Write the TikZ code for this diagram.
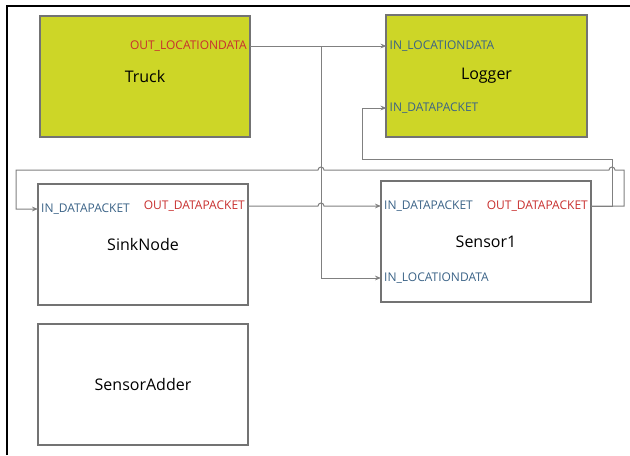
\documentclass[tikz,border=0pt]{standalone}
\usepackage{fontspec}
\setmainfont{Open Sans}
\usetikzlibrary{arrows.meta}
\definecolor{blockfill}{HTML}{CDD627}
\definecolor{outred}{HTML}{C8302F}
\definecolor{inblue}{HTML}{3B6387}
\definecolor{wiregray}{HTML}{808080}
\definecolor{boxgray}{HTML}{737373}

\begin{document}
\begin{tikzpicture}[x=0.75pt,y=0.75pt]
	 \tikzstyle{block}=[draw=boxgray,line width=0.9pt,rectangle,minimum width=157.5pt,minimum height=90.75pt,font=\fontsize{12}{14}\selectfont]
	 \tikzstyle{active block} = [block, fill=blockfill]
	 \tikzstyle{port} = [inner sep=2.2pt,font=\fontsize{9}{11}\selectfont]
	 \tikzstyle{in port} = [port, anchor=west, text=inblue]
	 \tikzstyle{out port} = [port, anchor=east, text=outred]
	 \tikzstyle{wire} = [draw,line width=0.75pt,wiregray]
	 \tikzstyle{link} = [wire,-{Stealth[length=4.5pt,width=3.5pt]}]
	 \useasboundingbox (0,0) rectangle (630,455);
	 \draw[line width=1.8pt] (7,0) -- (7,449) -- (630,449);
	 % blocks
	 \node[active block] (truck) at (145,378.5) {Truck};
	 \node[active block,minimum width=150.75pt,minimum height=91.5pt] (logger) at (486.5,379) {Logger};
	 \node[block] (sink) at (143,210.5) {SinkNode};
	 \node[block] (sensor) at (486,213.5) {Sensor1};
	 \node[block] (adder) at (143,70.5) {SensorAdder};
	 % ports
	 \node[out port] (trOut) at (250,409) {OUT\_LOCATIONDATA};
	 \node[in port] (lgInLoc) at (386.5,409) {IN\_LOCATIONDATA};
	 \node[in port] (lgInData) at (386.5,347) {IN\_DATAPACKET};
	 \node[in port] (snIn) at (38,246) {IN\_DATAPACKET};
	 \node[out port] (snOut) at (248,249) {OUT\_DATAPACKET};
	 \node[in port] (seIn) at (381,249) {IN\_DATAPACKET};
	 \node[out port] (seOut) at (591,249) {OUT\_DATAPACKET};
	 \node[in port] (seInLoc) at (381,177) {IN\_LOCATIONDATA};
	 \coordinate (split) at (321,409);
	 % connections
	 \draw[link] (trOut.east) -- (lgInLoc.west);
	 \draw[link] (split) |- (seInLoc.west);
	 \draw[link] (snOut.east) -- (318,249) arc[start angle=180,end angle=0,radius=3] -- (seIn.west);
	 \draw[link] (seOut.east) -- (612,249) -- (612,296) -- (362,296) |- (lgInData.west);
	 \draw[link] (seOut.east) -- (624,249) -- (624,285) -- (615,285)
		arc[start angle=0,end angle=180,radius=3] -- (324,285)
		arc[start angle=0,end angle=180,radius=3] -- (16,285) |- (snIn.west);
\end{tikzpicture}
\end{document}
